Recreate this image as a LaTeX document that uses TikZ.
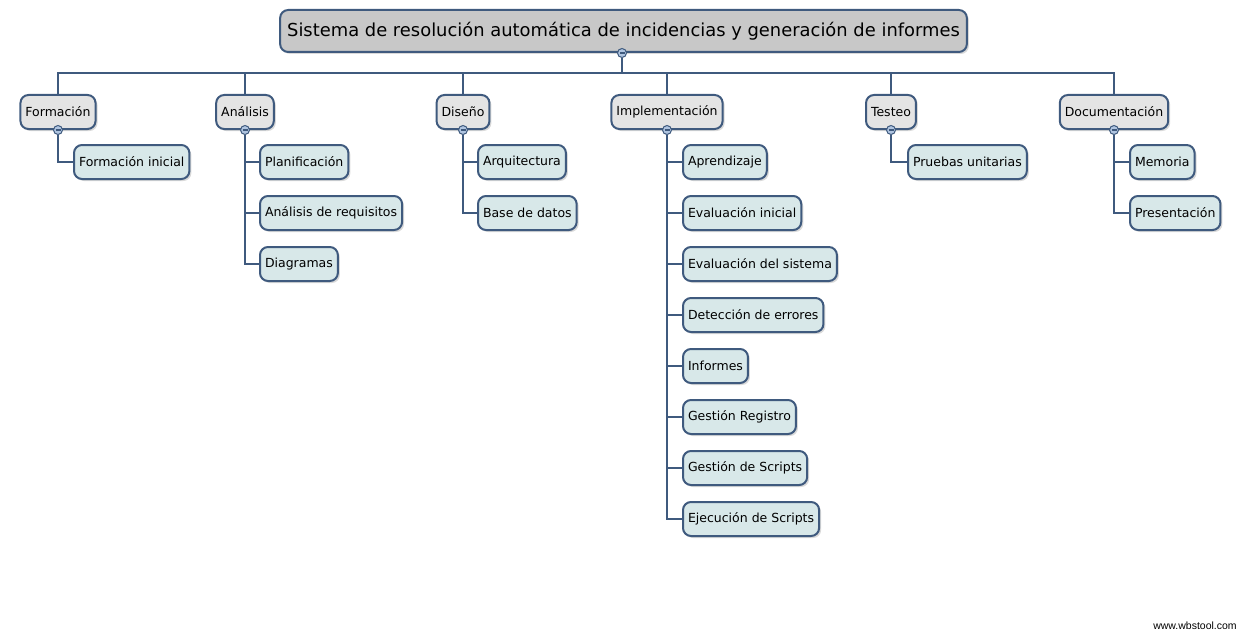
\documentclass[tikz,border=0pt]{standalone}
\usepackage{fontspec}
\setmainfont{DejaVu Sans}
\newfontfamily\webfont{Liberation Sans}
\usetikzlibrary{positioning, shadows}

\definecolor{wbsline}{HTML}{3F5A7E}
\definecolor{rootgray}{HTML}{C8C8C8}
\definecolor{catgray}{HTML}{E4E4E4}
\definecolor{leafblue}{HTML}{D8E8E9}
\definecolor{markblue}{HTML}{AFC4E0}

\begin{document}
\begin{tikzpicture}[x=1pt,y=-1pt,font=\fontsize{12.5}{14}\selectfont,line width=2pt]

		\tikzset{box st/.style={draw=wbsline, rounded corners=8pt,
								minimum height=34pt, inner xsep=5pt,
								drop shadow={opacity=0.3, shadow xshift=2pt, shadow yshift=-2pt}},
				 root st/.style={box st, fill=rootgray, minimum height=42pt,
								inner xsep=7pt, font=\fontsize{17.9}{20}\selectfont},
				 cat st/.style={box st, fill=catgray},
				 leaf st/.style={box st, fill=leafblue, anchor=west},
				 mark st/.style={circle, draw=wbsline, fill=markblue, line width=1pt,
								minimum size=9pt, inner sep=0pt,
								path picture={\draw[wbsline, line width=1.2pt]
								([xshift=-2.5pt]path picture bounding box.center) --
								([xshift=2.5pt]path picture bounding box.center);}}}

		\useasboundingbox (0,0) rectangle (1243,634);

		% raiz
		\node[root st] (sis) at (623.5,31) {Sistema de resolución automática de incidencias y generación de informes};
		\coordinate (bus) at (622,73);

		% fases
		\node[cat st] (for) at (58,112) {Formación};
		\node[cat st] (ana) at (245,112) {Análisis};
		\node[cat st] (dis) at (463,112) {Diseño};
		\node[cat st] (imp) at (667,112) {Implementación};
		\node[cat st] (tes) at (891,112) {Testeo};
		\node[cat st] (doc) at (1114,112) {Documentación};

		% tareas
		\node[leaf st] (for1) at (73,162) {Formación inicial};

		\node[leaf st] (ana1) at (259,162) {Planificación};
		\node[leaf st] (ana2) at (259,213) {Análisis de requisitos};
		\node[leaf st] (ana3) at (259,264) {Diagramas};

		\node[leaf st] (dis1) at (477,162) {Arquitectura};
		\node[leaf st] (dis2) at (477,213) {Base de datos};

		\node[leaf st] (imp1) at (682,162) {Aprendizaje};
		\node[leaf st] (imp2) at (682,213) {Evaluación inicial};
		\node[leaf st] (imp3) at (682,264) {Evaluación del sistema};
		\node[leaf st] (imp4) at (682,315) {Detección de errores};
		\node[leaf st] (imp5) at (682,366) {Informes};
		\node[leaf st] (imp6) at (682,417) {Gestión Registro};
		\node[leaf st] (imp7) at (682,468) {Gestión de Scripts};
		\node[leaf st] (imp8) at (682,519) {Ejecución de Scripts};

		\node[leaf st] (tes1) at (907,162) {Pruebas unitarias};

		\node[leaf st] (doc1) at (1129,162) {Memoria};
		\node[leaf st] (doc2) at (1129,213) {Presentación};

		% marcas de plegado
		\node[mark st] (sis-m) at (bus |- sis.south) {};
		\foreach \c in {for,ana,dis,imp,tes,doc}
			\node[mark st] (\c-m) at (\c.south) {};

		% conectores
		\draw[wbsline] (sis-m) -- (bus);
		\foreach \c in {for,ana,dis,imp,tes,doc}
			\draw[wbsline] (bus) -| (\c);

		\draw[wbsline] (for-m) |- (for1);
		\foreach \i in {1,2,3}
			\draw[wbsline] (ana-m) |- (ana\i);
		\foreach \i in {1,2}
			\draw[wbsline] (dis-m) |- (dis\i);
		\foreach \i in {1,...,8}
			\draw[wbsline] (imp-m) |- (imp\i);
		\draw[wbsline] (tes-m) |- (tes1);
		\foreach \i in {1,2}
			\draw[wbsline] (doc-m) |- (doc\i);

		\node[font=\webfont\fontsize{10.5}{12}\selectfont] (web) at (1195,626) {www.wbstool.com};
		\end{tikzpicture}
\end{document}
